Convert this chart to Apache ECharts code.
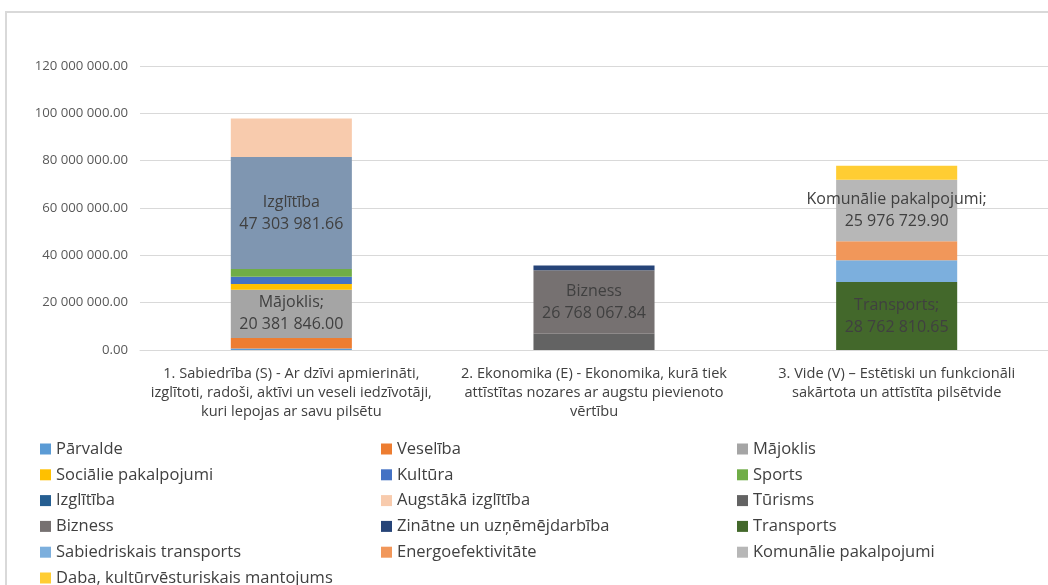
<!DOCTYPE html>
<html>
<head>
<meta charset="utf-8">
<script src="https://cdn.jsdelivr.net/npm/echarts@6/dist/echarts.min.js"></script>
<style>
  html, body { margin: 0; padding: 0; background: #fff; }
  #main { width: 1048px; height: 585px; }
</style>
</head>
<body>
<div id="main"></div>
<script>
// categories (wrapped like the original axis labels)
var categories = [
    '1. Sabiedrība (S) - Ar dzīvi apmierināti,\nizglītoti, radoši, aktīvi un veseli iedzīvotāji,\nkuri lepojas ar savu pilsētu',
    '2. Ekonomika (E) - Ekonomika, kurā tiek\nattīstītas nozares ar augstu pievienoto\nvērtību',
    '3. Vide (V) – Estētiski un funkcionāli\nsakārtota un attīstīta pilsētvide'
];

var yTicks = [0, 20000000, 40000000, 60000000, 80000000, 100000000, 120000000];

// series values per category [S, E, V]
var parvalde = [600000, null, null];
var veseliba = [4500000, null, null];
var majoklis = [20381846.00, null, null];
var socialie = [2400000, null, null];
var kultura = [3100000, null, null];
var sports = [3250000, null, null];
var izglitiba = [47303981.66, null, null];
var augstaka = [16300000, null, null];
var turisms = [null, 6900000, null];
var bizness = [null, 26768067.84, null];
var zinatne = [null, 2000000, null];
var transports = [null, null, 28762810.65];
var sabTransports = [null, null, 9200000];
var energo = [null, null, 8000000];
var komunalie = [null, null, 25976729.90];
var daba = [null, null, 5900000];

var fmt = function (v) {
    var parts = v.toFixed(2).split('.');
    return parts[0].replace(/\B(?=(\d{3})+(?!\d))/g, ' ') + '.' + parts[1];
};

var chart = echarts.init(document.getElementById('main'));

var FONT = 'Open Sans';

// name, data, bar colour, legend colour, label separator (undefined = no label)
var defs = [
    ['Pārvalde', parvalde, '#5B9BD5', '#5B9BD5'],
    ['Veselība', veseliba, '#ED7D31', '#ED7D31'],
    ['Mājoklis', majoklis, '#A5A5A5', '#A5A5A5', ';'],
    ['Sociālie pakalpojumi', socialie, '#FFC000', '#FFC000'],
    ['Kultūra', kultura, '#4472C4', '#4472C4'],
    ['Sports', sports, '#70AD47', '#70AD47'],
    ['Izglītība', izglitiba, '#7F96B1', '#255E91', ''],
    ['Augstākā izglītība', augstaka, '#F8CBAD', '#F8CBAD'],
    ['Tūrisms', turisms, '#636363', '#636363'],
    ['Bizness', bizness, '#767171', '#767171', ''],
    ['Zinātne un uzņēmējdarbība', zinatne, '#264478', '#264478'],
    ['Transports', transports, '#43682B', '#43682B', ';'],
    ['Sabiedriskais transports', sabTransports, '#7CAFDD', '#7CAFDD'],
    ['Energoefektivitāte', energo, '#F1975A', '#F1975A'],
    ['Komunālie pakalpojumi', komunalie, '#B7B7B7', '#B7B7B7', ';'],
    ['Daba, kultūrvēsturiskais mantojums', daba, '#FFCD33', '#FFCD33']
];

var series = defs.map(function (d) {
    var s = {
        name: d[0],
        type: 'bar',
        stack: 'total',
        barWidth: '40%',
        itemStyle: { color: d[2] },
        data: d[1]
    };
    if (d[4] !== undefined) {
        s.label = {
            show: true,
            position: 'inside',
            fontFamily: FONT,
            fontSize: 16,
            lineHeight: 22,
            color: '#404040',
            formatter: function (p) {
                return d[0] + d[4] + '\n' + fmt(p.value);
            }
        };
    }
    return s;
});

var legendItem = function (i) {
    return { name: defs[i][0], itemStyle: { color: defs[i][3] } };
};

var legendBase = {
    orient: 'vertical',
    top: 440,
    height: 200,
    padding: 0,
    icon: 'rect',
    itemWidth: 11,
    itemHeight: 11,
    itemGap: 7.8,
    selectedMode: false,
    textStyle: { fontFamily: FONT, fontSize: 16.5, lineHeight: 18, color: '#404040' }
};

var option = {
    animation: false,
    backgroundColor: '#fff',
    graphic: [{
        type: 'rect',
        shape: { x: 6, y: 12, width: 1200, height: 800 },
        style: { fill: 'none', stroke: '#D9D9D9', lineWidth: 2 },
        silent: true
    }],
    legend: [
        Object.assign({}, legendBase, { left: 40, data: [0, 3, 6, 9, 12, 15].map(legendItem) }),
        Object.assign({}, legendBase, { left: 381, data: [1, 4, 7, 10, 13].map(legendItem) }),
        Object.assign({}, legendBase, { left: 737, data: [2, 5, 8, 11, 14].map(legendItem) })
    ],
    grid: {
        left: 140,
        right: 0,
        top: 66,
        bottom: 235
    },
    xAxis: {
        type: 'category',
        data: categories,
        axisLine: { lineStyle: { color: '#D9D9D9' } },
        axisTick: { show: false },
        axisLabel: {
            margin: 14,
            fontFamily: FONT,
            fontSize: 14.6,
            lineHeight: 19,
            color: '#404040',
            interval: 0
        }
    },
    yAxis: {
        type: 'value',
        min: yTicks[0],
        max: yTicks[yTicks.length - 1],
        interval: yTicks[1] - yTicks[0],
        axisLine: { show: false },
        axisTick: { show: false },
        splitLine: { lineStyle: { color: '#D9D9D9' } },
        axisLabel: {
            margin: 12,
            fontFamily: FONT,
            fontSize: 13.2,
            color: '#595959',
            formatter: function (v) { return fmt(v); }
        }
    },
    series: series
};

chart.setOption(option);
</script>
</body>
</html>
